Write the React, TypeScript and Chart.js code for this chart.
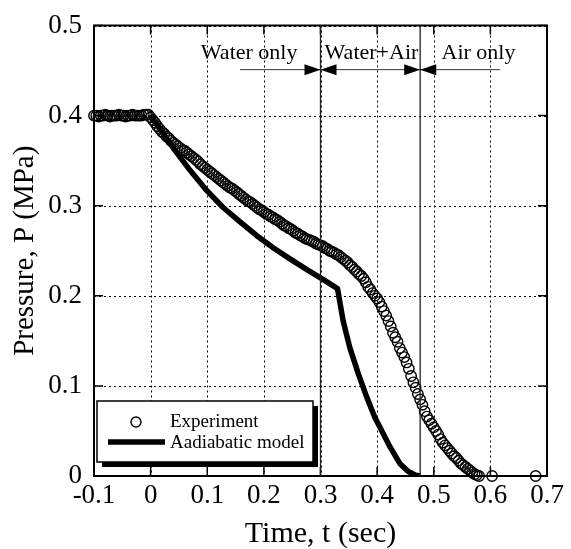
import React, { useEffect, useRef } from "react";
import { Chart, registerables } from "chart.js";

Chart.register(...registerables);

const FONT = "'Liberation Serif', 'Times New Roman', Times, serif";

// ---- axis ticks ----
const xTickValues = [-0.1, 0, 0.1, 0.2, 0.3, 0.4, 0.5, 0.6, 0.7];
const xTickLabels = ["-0.1", "0", "0.1", "0.2", "0.3", "0.4", "0.5", "0.6", "0.7"];
const yTickValues = [0, 0.1, 0.2, 0.3, 0.4, 0.5];
const yTickLabels = ["0", "0.1", "0.2", "0.3", "0.4", "0.5"];

// ---- series labels ----
const seriesLabels = ["Experiment", "Aadiabatic model"];

// ---- experiment (time in s, pressure in MPa) ----
const expTime = [
  -0.100, -0.096, -0.092, -0.088, -0.084, -0.080, -0.076, -0.072, -0.068, -0.064,
  -0.060, -0.056, -0.052, -0.048, -0.044, -0.040, -0.036, -0.032, -0.028, -0.024,
  -0.020, -0.016, -0.012, -0.008, -0.004, 0.000, 0.004, 0.008, 0.012, 0.016,
  0.020, 0.024, 0.028, 0.032, 0.036, 0.040, 0.044, 0.048, 0.052, 0.056,
  0.060, 0.064, 0.068, 0.072, 0.076, 0.080, 0.084, 0.088, 0.092, 0.096,
  0.100, 0.104, 0.108, 0.112, 0.116, 0.120, 0.124, 0.128, 0.132, 0.136,
  0.140, 0.144, 0.148, 0.152, 0.156, 0.160, 0.164, 0.168, 0.172, 0.176,
  0.180, 0.184, 0.188, 0.192, 0.196, 0.200, 0.204, 0.208, 0.212, 0.216,
  0.220, 0.224, 0.228, 0.232, 0.236, 0.240, 0.244, 0.248, 0.252, 0.256,
  0.260, 0.264, 0.268, 0.272, 0.276, 0.280, 0.284, 0.288, 0.292, 0.296,
  0.300, 0.304, 0.308, 0.312, 0.316, 0.320, 0.324, 0.328, 0.332, 0.336,
  0.340, 0.344, 0.348, 0.352, 0.356, 0.360, 0.364, 0.368, 0.372, 0.376,
  0.380, 0.384, 0.388, 0.392, 0.396, 0.400, 0.404, 0.408, 0.412, 0.416,
  0.420, 0.424, 0.428, 0.432, 0.436, 0.440, 0.444, 0.448, 0.452, 0.456,
  0.460, 0.464, 0.468, 0.472, 0.476, 0.480, 0.484, 0.488, 0.492, 0.496,
  0.500, 0.504, 0.508, 0.512, 0.516, 0.520, 0.524, 0.528, 0.532, 0.536,
  0.540, 0.544, 0.548, 0.552, 0.556, 0.560, 0.564, 0.568, 0.572, 0.576,
  0.580, 0.603, 0.680,
];
const expPressure = [
  0.400, 0.400, 0.399, 0.400, 0.400, 0.401, 0.400, 0.399, 0.400, 0.400,
  0.400, 0.401, 0.400, 0.400, 0.399, 0.400, 0.400, 0.401, 0.400, 0.400,
  0.400, 0.400, 0.401, 0.401, 0.401, 0.398, 0.395, 0.392, 0.388, 0.385,
  0.382, 0.380, 0.377, 0.375, 0.372, 0.370, 0.368, 0.366, 0.364, 0.362,
  0.361, 0.359, 0.357, 0.355, 0.353, 0.351, 0.349, 0.346, 0.344, 0.342,
  0.340, 0.338, 0.336, 0.334, 0.332, 0.330, 0.328, 0.326, 0.324, 0.322,
  0.320, 0.319, 0.317, 0.315, 0.313, 0.311, 0.309, 0.307, 0.305, 0.304,
  0.302, 0.300, 0.298, 0.296, 0.295, 0.293, 0.291, 0.290, 0.288, 0.287,
  0.285, 0.284, 0.282, 0.280, 0.278, 0.277, 0.275, 0.274, 0.272, 0.270,
  0.269, 0.267, 0.266, 0.264, 0.263, 0.262, 0.261, 0.260, 0.258, 0.257,
  0.256, 0.255, 0.253, 0.252, 0.250, 0.249, 0.248, 0.246, 0.245, 0.243,
  0.241, 0.239, 0.237, 0.234, 0.232, 0.229, 0.227, 0.224, 0.222, 0.219,
  0.215, 0.210, 0.207, 0.203, 0.200, 0.197, 0.193, 0.188, 0.183, 0.178,
  0.172, 0.166, 0.159, 0.154, 0.149, 0.142, 0.137, 0.132, 0.126, 0.119,
  0.111, 0.104, 0.098, 0.091, 0.085, 0.079, 0.072, 0.066, 0.062, 0.058,
  0.054, 0.050, 0.046, 0.041, 0.037, 0.034, 0.031, 0.028, 0.025, 0.022,
  0.020, 0.017, 0.014, 0.012, 0.010, 0.008, 0.006, 0.004, 0.002, 0.001,
  0.000, 0.000, 0.000,
];

// ---- adiabatic model ----
const modelTime = [
  0.000, 0.017, 0.040, 0.070, 0.099, 0.128, 0.158, 0.187, 0.217, 0.246,
  0.276, 0.305, 0.330, 0.340, 0.352, 0.367, 0.382, 0.396, 0.405, 0.423,
  0.440, 0.455, 0.468, 0.476,
];
const modelPressure = [
  0.400, 0.385, 0.364, 0.339, 0.317, 0.298, 0.282, 0.267, 0.253, 0.241,
  0.229, 0.218, 0.208, 0.172, 0.142, 0.113, 0.087, 0.065, 0.054, 0.032,
  0.014, 0.005, 0.001, 0.000,
];

// ---- flow regime annotations ----
const phaseBoundaries = [0.3, 0.476];
const regionLabels = ["Water only", "Water+Air", "Air only"];
const regionLabelX = [0.174, 0.390, 0.579];
const regionLabelBaseline = 0.4625;
const arrowLevel = 0.451;
const waterOnlyArrowStart = 0.158;
const airOnlyArrowEnd = 0.617;

const fmtTick = (values: number[], labels: string[]) => (v: any) => {
  const i = values.findIndex((t) => Math.abs(t - Number(v)) < 1e-9);
  return i >= 0 ? labels[i] : "";
};

const decorPlugin = {
  id: "decor",
  beforeDraw(chart: any) {
    const { ctx, width, height } = chart;
    ctx.save();
    ctx.fillStyle = "#fff";
    ctx.fillRect(0, 0, width, height);
    ctx.restore();
  },
  beforeDatasetsDraw(chart: any) {
    const { ctx, chartArea, scales } = chart;
    const { top, bottom, left, right } = chartArea;
    ctx.save();
    ctx.strokeStyle = "#000";
    ctx.lineWidth = 1;
    ctx.setLineDash([2, 3]);
    xTickValues.forEach((v) => {
      const px = Math.round(scales.x.getPixelForValue(v)) + 0.5;
      ctx.beginPath();
      ctx.moveTo(px, top);
      ctx.lineTo(px, bottom);
      ctx.stroke();
    });
    yTickValues.forEach((v) => {
      const py = Math.round(scales.y.getPixelForValue(v)) + 0.5;
      ctx.beginPath();
      ctx.moveTo(left, py);
      ctx.lineTo(right, py);
      ctx.stroke();
    });
    ctx.restore();
  },
  afterDraw(chart: any) {
    const { ctx, chartArea, scales } = chart;
    const { top, bottom, left, right } = chartArea;
    const xs = scales.x;
    const ys = scales.y;
    ctx.save();
    ctx.setLineDash([]);

    // frame
    ctx.strokeStyle = "#000";
    ctx.lineWidth = 2;
    ctx.strokeRect(left, top, right - left, bottom - top);

    // inward ticks
    ctx.lineWidth = 1.5;
    const tl = 9;
    xTickValues.forEach((v) => {
      const px = xs.getPixelForValue(v);
      ctx.beginPath();
      ctx.moveTo(px, bottom);
      ctx.lineTo(px, bottom - tl);
      ctx.moveTo(px, top);
      ctx.lineTo(px, top + tl);
      ctx.stroke();
    });
    yTickValues.forEach((v) => {
      const py = ys.getPixelForValue(v);
      ctx.beginPath();
      ctx.moveTo(left, py);
      ctx.lineTo(left + tl, py);
      ctx.moveTo(right, py);
      ctx.lineTo(right - tl, py);
      ctx.stroke();
    });

    // phase boundaries
    ctx.strokeStyle = "#222";
    ctx.lineWidth = 1.3;
    phaseBoundaries.forEach((b) => {
      const px = xs.getPixelForValue(b);
      ctx.beginPath();
      ctx.moveTo(px, top);
      ctx.lineTo(px, bottom);
      ctx.stroke();
    });

    // arrows
    const ay = ys.getPixelForValue(arrowLevel);
    const xa = xs.getPixelForValue(waterOnlyArrowStart);
    const xb = xs.getPixelForValue(phaseBoundaries[0]);
    const xc = xs.getPixelForValue(phaseBoundaries[1]);
    const xd = xs.getPixelForValue(airOnlyArrowEnd);
    ctx.strokeStyle = "#333";
    ctx.lineWidth = 1;
    ctx.beginPath();
    ctx.moveTo(xa, ay);
    ctx.lineTo(xd, ay);
    ctx.stroke();
    const head = (tip: number, dir: number) => {
      ctx.beginPath();
      ctx.moveTo(tip, ay);
      ctx.lineTo(tip - dir * 16, ay - 5.5);
      ctx.lineTo(tip - dir * 16, ay + 5.5);
      ctx.closePath();
      ctx.fill();
    };
    ctx.fillStyle = "#000";
    head(xb, 1);
    head(xb, -1);
    head(xc, 1);
    head(xc, -1);

    // region labels
    ctx.fillStyle = "#000";
    ctx.font = `22px ${FONT}`;
    ctx.textAlign = "center";
    ctx.textBaseline = "alphabetic";
    const by = ys.getPixelForValue(regionLabelBaseline);
    regionLabels.forEach((t, i) => {
      ctx.fillText(t, xs.getPixelForValue(regionLabelX[i]), by);
    });

    // legend
    const lx = left + 3;
    const ly = bottom - 75;
    const w = 216;
    const h = 61;
    ctx.fillStyle = "#000";
    ctx.fillRect(lx + 5, ly + 5, w, h);
    ctx.fillStyle = "#fff";
    ctx.fillRect(lx, ly, w, h);
    ctx.strokeStyle = "#000";
    ctx.lineWidth = 1.5;
    ctx.strokeRect(lx, ly, w, h);

    ctx.lineWidth = 1.4;
    ctx.beginPath();
    ctx.arc(lx + 39, ly + 21, 5, 0, Math.PI * 2);
    ctx.stroke();
    ctx.lineWidth = 5.5;
    ctx.beginPath();
    ctx.moveTo(lx + 11, ly + 41);
    ctx.lineTo(lx + 68, ly + 41);
    ctx.stroke();

    ctx.fillStyle = "#000";
    ctx.font = `19px ${FONT}`;
    ctx.textAlign = "left";
    ctx.textBaseline = "alphabetic";
    ctx.fillText(seriesLabels[0], lx + 73, ly + 26);
    ctx.fillText(seriesLabels[1], lx + 73, ly + 47);

    ctx.restore();
  },
};

export default function App() {
  const canvasRef = useRef<HTMLCanvasElement | null>(null);

  useEffect(() => {
    const canvas = canvasRef.current;
    if (!canvas) return;

    const expData = expTime.map((t, i) => ({ x: t, y: expPressure[i] }));
    const modelData = modelTime.map((t, i) => ({ x: t, y: modelPressure[i] }));

    const chart = new Chart(canvas, {
      type: "scatter",
      data: {
        datasets: [
          {
            label: seriesLabels[0],
            data: expData,
            showLine: false,
            pointStyle: "circle",
            pointRadius: 5.2,
            pointBorderWidth: 1.4,
            borderColor: "#000",
            backgroundColor: "rgba(0,0,0,0)",
            clip: false as any,
          },
          {
            label: seriesLabels[1],
            data: modelData,
            showLine: true,
            pointRadius: 0,
            borderWidth: 5.5,
            borderColor: "#000",
            backgroundColor: "#000",
            tension: 0,
            borderJoinStyle: "round",
          } as any,
        ],
      },
      options: {
        animation: false,
        responsive: false,
        devicePixelRatio: 1,
        layout: { padding: { top: 22, right: 24, left: 0, bottom: 0 } },
        plugins: {
          legend: { display: false },
          tooltip: { enabled: false },
        },
        scales: {
          x: {
            type: "linear",
            min: -0.1,
            max: 0.7,
            afterBuildTicks: (s: any) => {
              s.ticks = xTickValues.map((v) => ({ value: v }));
            },
            afterFit: (s: any) => {
              s.height = 73;
            },
            grid: { display: false, drawTicks: false },
            border: { display: false },
            ticks: {
              color: "#000",
              font: { family: FONT, size: 27, lineHeight: 1 },
              padding: 6,
              maxRotation: 0,
              autoSkip: false,
              callback: fmtTick(xTickValues, xTickLabels),
            },
            title: {
              display: true,
              text: "Time, t (sec)",
              color: "#000",
              font: { family: FONT, size: 30, lineHeight: 1 },
              padding: 0,
            },
          },
          y: {
            type: "linear",
            min: 0,
            max: 0.5,
            afterBuildTicks: (s: any) => {
              s.ticks = yTickValues.map((v) => ({ value: v }));
            },
            afterFit: (s: any) => {
              s.width = 94;
            },
            grid: { display: false, drawTicks: false },
            border: { display: false },
            ticks: {
              color: "#000",
              font: { family: FONT, size: 27, lineHeight: 1 },
              padding: 12,
              autoSkip: false,
              callback: fmtTick(yTickValues, yTickLabels),
            },
            title: {
              display: true,
              text: "Pressure, P (MPa)",
              color: "#000",
              font: { family: FONT, size: 29, lineHeight: 1.2 },
              padding: { top: 8, bottom: 0 },
            },
          },
        },
      } as any,
      plugins: [decorPlugin],
    });

    return () => {
      chart.destroy();
    };
  }, []);

  return (
    <div
      style={{
        position: "absolute",
        left: 0,
        top: 0,
        width: 571,
        height: 549,
        background: "#fff",
      }}
    >
      <canvas
        ref={canvasRef}
        width={571}
        height={549}
        style={{ display: "block", width: 571, height: 549 }}
      />
    </div>
  );
}
